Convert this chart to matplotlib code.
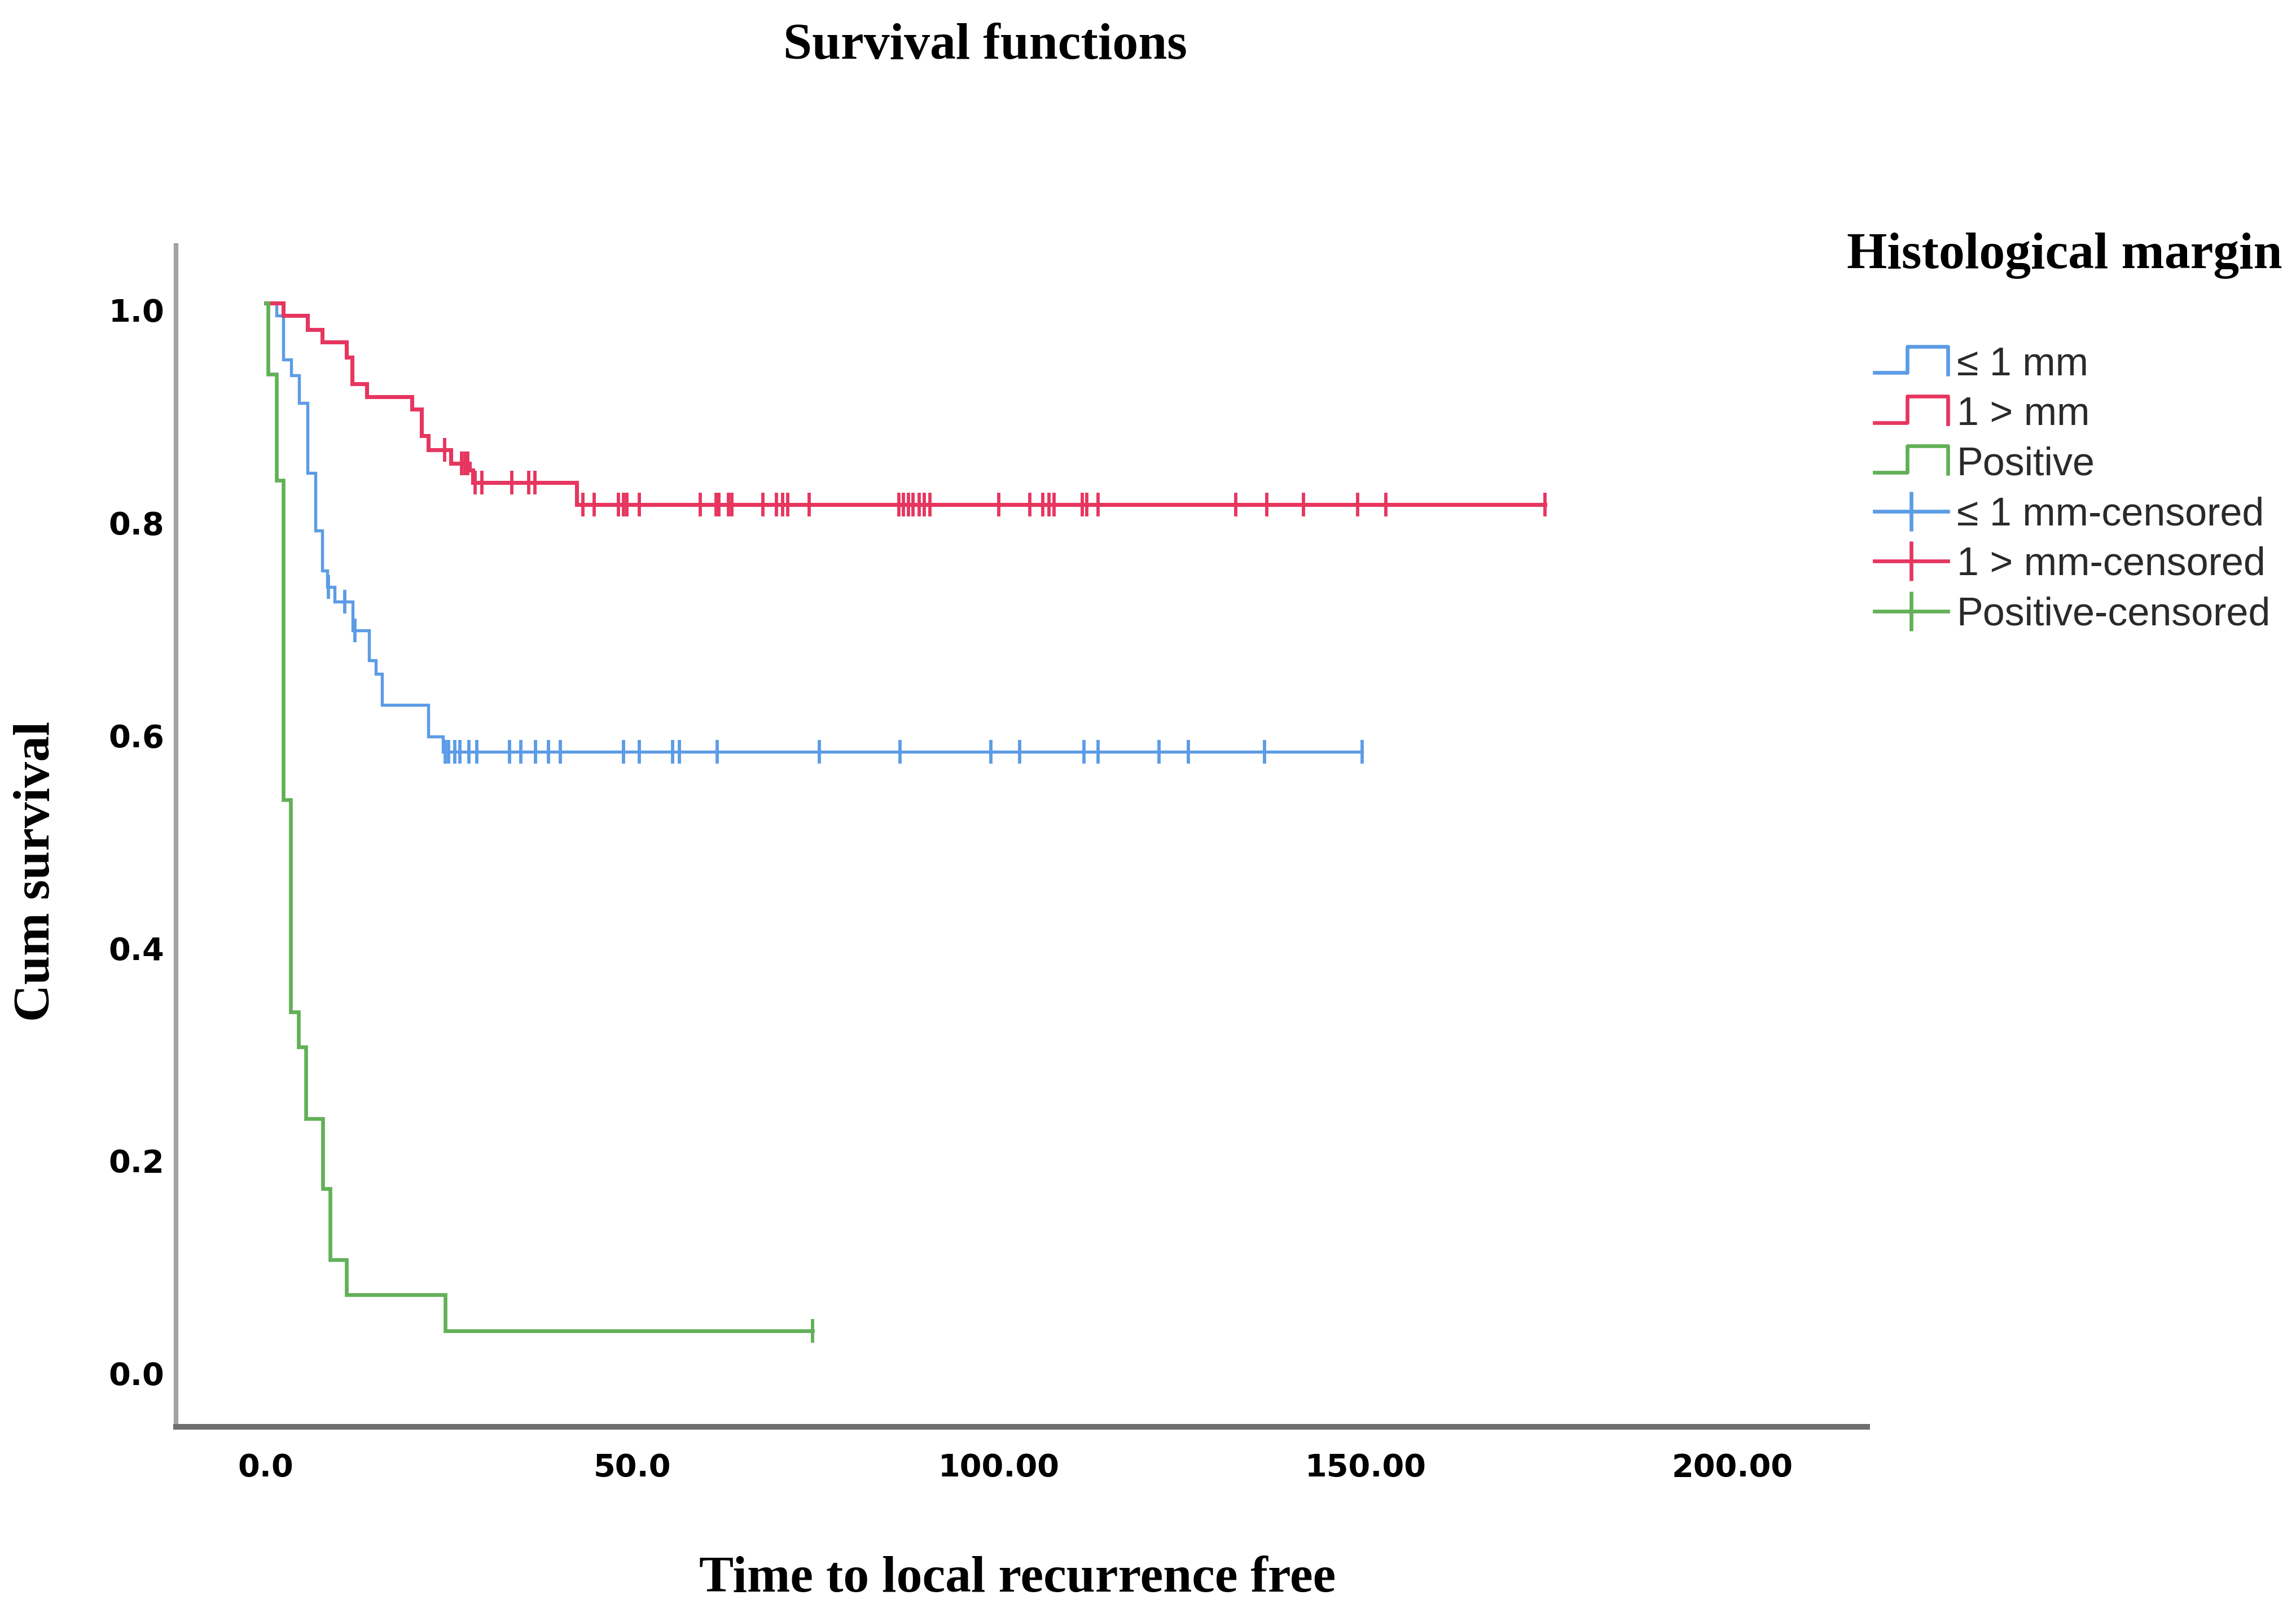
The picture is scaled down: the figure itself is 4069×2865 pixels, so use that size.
import numpy as np
import matplotlib
matplotlib.use("Agg")
import matplotlib.pyplot as plt
import matplotlib.transforms as mtransforms
from matplotlib.lines import Line2D
from matplotlib.legend_handler import HandlerBase

# event times (months) and survival after each event
blue_times = [1.5, 2.4, 3.5, 4.6, 5.7, 6.8, 7.7, 8.4, 9.4, 11.9, 14.1, 15.0, 15.9, 22.2, 24.2]
blue_surv = [0.988, 0.947, 0.932, 0.906, 0.840, 0.786, 0.748, 0.733, 0.719, 0.692, 0.664, 0.651, 0.622, 0.592, 0.578]
blue_end = 149.5
blue_censored = [8.6, 10.8, 12.2, 24.5, 25.0, 25.8, 26.5, 27.7, 28.8, 33.3, 34.8, 36.8, 38.6, 40.2,
                 48.8, 51.0, 55.5, 56.4, 61.6, 75.5, 86.5, 98.9, 102.8, 111.6, 113.5, 121.8,
                 125.8, 136.2, 149.5]

red_times = [2.4, 5.7, 7.7, 11.0, 11.8, 13.8, 20.0, 21.3, 22.2, 25.3, 27.8, 28.3, 42.4]
red_surv = [0.988, 0.975, 0.963, 0.949, 0.924, 0.912, 0.900, 0.875, 0.862, 0.849, 0.843, 0.831, 0.8105]
red_end = 174.5
red_censored = [24.4, 26.7, 27.2, 27.6, 28.6, 29.5, 33.6, 35.9, 36.7, 43.3, 44.8, 48.1, 48.8, 49.3,
                51.0, 59.3, 61.4, 61.8, 63.1, 63.6, 67.8, 69.7, 70.5, 71.2, 74.1, 86.4, 87.0,
                87.7, 88.3, 89.1, 89.8, 90.6, 100.0, 104.2, 106.0, 106.8, 107.5, 111.4, 112.0,
                113.5, 132.3, 136.5, 141.5, 148.9, 152.8, 174.5]

green_times = [0.35, 1.5, 2.4, 3.4, 4.5, 5.5, 7.8, 8.8, 11.0, 24.5]
green_surv = [0.933, 0.833, 0.533, 0.333, 0.300, 0.233, 0.167, 0.100, 0.067, 0.033]
green_end = 74.6
green_censored = [74.6]

labels = ["\u2264 1 mm", "1 > mm", "Positive"]
xticks = [0, 50, 100, 150, 200]
xtick_labels = ["0.0", "50.0", "100.00", "150.00", "200.00"]
yticks = [0.0, 0.2, 0.4, 0.6, 0.8, 1.0]

c_blue = "#5c9ce6"
c_red = "#e6365f"
c_green = "#62b058"

serif = "Liberation Serif"


def km_curve(times, surv, end):
    x = np.concatenate([[0.0], times, [end]])
    y = np.concatenate([[1.0], surv, [surv[-1]]])
    return x, y


def level_at(times, surv, t):
    idx = np.searchsorted(np.asarray(times), np.asarray(t), side="right")
    levels = np.concatenate([[1.0], surv])
    return levels[idx]


class StepHandler(HandlerBase):
    def create_artists(self, legend, orig_handle, xdescent, ydescent,
                       width, height, fontsize, trans):
        x0 = -xdescent
        y0 = -ydescent
        xs = [x0, x0 + 0.45 * width, x0 + 0.45 * width, x0 + width, x0 + width]
        ys = [y0 + 0.1 * height, y0 + 0.1 * height, y0 + 1.05 * height,
              y0 + 1.05 * height, y0 + 0.05 * height]
        ln = Line2D(xs, ys, color=orig_handle.get_color(), lw=orig_handle.get_linewidth())
        ln.set_transform(trans)
        return [ln]


fig = plt.figure(figsize=(4069 / 300, 2865 / 300), dpi=300)
ax = fig.add_axes([312 / 4069, 1 - 2528 / 2865, (3309 - 312) / 4069, (2528 - 435) / 2865])

groups = [
    (blue_times, blue_surv, blue_end, blue_censored, c_blue, 1.3),
    (red_times, red_surv, red_end, red_censored, c_red, 1.7),
    (green_times, green_surv, green_end, green_censored, c_green, 1.6),
]
for times, surv, end, cens, col, lw in groups:
    x, y = km_curve(times, surv, end)
    ax.step(x, y, where="post", color=col, lw=lw, solid_joinstyle="miter")
    ax.plot(cens, level_at(times, surv, cens), linestyle="none", marker="|",
            ms=10, mew=1.4, color=col)

ax.set_xlim(-12.2, 218.4)
ax.set_ylim(-0.057, 1.054)
ax.set_xticks(xticks)
ax.set_xticklabels(xtick_labels)
ax.set_yticks(yticks)
ax.set_yticklabels(["%.1f" % v for v in yticks])
ax.tick_params(axis="both", length=0, labelsize=13.4)
ax.tick_params(axis="x", pad=11)
ax.tick_params(axis="y", pad=5)
for lab in ax.get_xticklabels() + ax.get_yticklabels():
    lab.set_fontweight("bold")
    lab.set_family("DejaVu Sans")
# y labels sit a little below their gridline in the original
shift = mtransforms.ScaledTranslation(0, -3 / 72, fig.dpi_scale_trans)
for lab in ax.get_yticklabels():
    lab.set_transform(lab.get_transform() + shift)

ax.spines["top"].set_visible(False)
ax.spines["right"].set_visible(False)
ax.spines["left"].set_color("#a2a2aa")
ax.spines["left"].set_linewidth(2.0)
ax.spines["bottom"].set_color("#6e6e6e")
ax.spines["bottom"].set_linewidth(2.4)

fig.text(0.4291, 0.9715, "Survival functions", ha="center", va="center",
         family=serif, fontweight="bold", fontsize=22)
fig.text(0.4431, 0.0235, "Time to local recurrence free", ha="center", va="center",
         family=serif, fontweight="bold", fontsize=22)
fig.text(0.016, 0.461, "Cum survival", ha="center", va="center", rotation=90,
         family=serif, fontweight="bold", fontsize=22)
fig.text(0.8993, 0.8420, "Histological margin", ha="center", va="center",
         family=serif, fontweight="bold", fontsize=22)

step_handles = [Line2D([], [], color=c, lw=1.6) for c in (c_blue, c_red, c_green)]
cens_handles = [Line2D([], [], color=c, lw=1.6, marker="|", ms=17, mew=1.6)
                for c in (c_blue, c_red, c_green)]
handles = step_handles + cens_handles
leg_labels = labels + [s + "-censored" for s in labels]
hmap = {h: StepHandler() for h in step_handles}
leg = fig.legend(handles, leg_labels, handler_map=hmap, loc="upper left",
                 bbox_to_anchor=(3322 / 4069, 1 - 614 / 2865), frameon=False,
                 borderpad=0, borderaxespad=0, handlelength=1.85, handletextpad=0.23,
                 labelspacing=0.32, numpoints=1,
                 prop={"family": ["Liberation Sans", "DejaVu Sans"], "size": 16.8})
for t in leg.get_texts():
    t.set_color("#2a2a2a")

fig.savefig("out.png", dpi=300, facecolor="white")
